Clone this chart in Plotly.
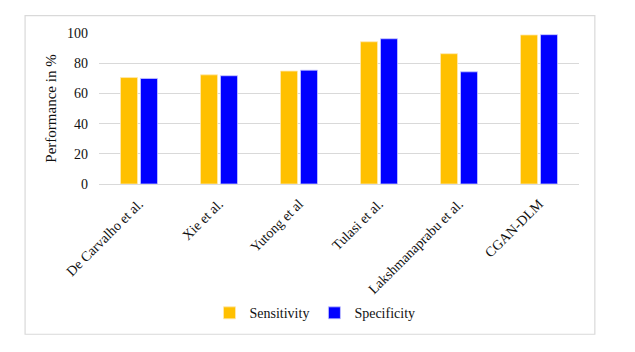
import plotly.graph_objects as go

categories = ["De Carvalho et al.", "Xie et al.", "Yutong et al", "Tulasi et al.",
              "Lakshmanaprabu et al.", "CGAN-DLM"]
sensitivity = [70.5, 72.3, 74.8, 94.2, 86.3, 98.7]
specificity = [69.9, 71.7, 75.4, 96.2, 74.3, 98.9]
y_ticks = [0, 20, 40, 60, 80, 100]

FONT = "Liberation Serif"

fig = go.Figure()
fig.add_trace(go.Bar(x=categories, y=sensitivity, name="Sensitivity",
                     marker=dict(color="#FFC000", line=dict(color="#FFE9B0", width=0.8))))
fig.add_trace(go.Bar(x=categories, y=specificity, name="Specificity",
                     marker=dict(color="#0000FF", line=dict(color="#C8C8FF", width=0.8))))

fig.update_layout(
    width=635, height=352,
    margin=dict(l=99, r=56, t=33, b=168),
    paper_bgcolor="white", plot_bgcolor="white",
    barmode="group", bargap=0.5, bargroupgap=0.15,
    font=dict(family=FONT, size=14, color="#111"),
    showlegend=True,
    legend=dict(orientation="h", x=0.45, xanchor="center", y=-0.856, yanchor="middle",
                font=dict(family=FONT, size=14, color="#111"),
                itemwidth=30, traceorder="normal"),
    xaxis=dict(tickangle=-45, showgrid=False, showline=False, ticks="",
               ticklabelstandoff=8,
               tickfont=dict(family=FONT, size=14, color="#111")),
    yaxis=dict(range=[0, 100], tickvals=y_ticks, showgrid=True, gridcolor="#D9D9D9",
               gridwidth=1, zeroline=True, zerolinecolor="#D9D9D9", zerolinewidth=1,
               ticks="", ticklabelstandoff=10,
               tickfont=dict(family=FONT, size=14, color="#111"),
               title=dict(text="Performance in %", font=dict(family=FONT, size=15, color="#111"),
                          standoff=6)),
    shapes=[dict(type="rect", xref="paper", yref="paper",
                 x0=-0.154, x1=1.033, y0=-0.995, y1=1.115,
                 line=dict(color="#D9D9D9", width=1.2), fillcolor="rgba(0,0,0,0)", layer="below")],
)

fig.write_html("out.html")
